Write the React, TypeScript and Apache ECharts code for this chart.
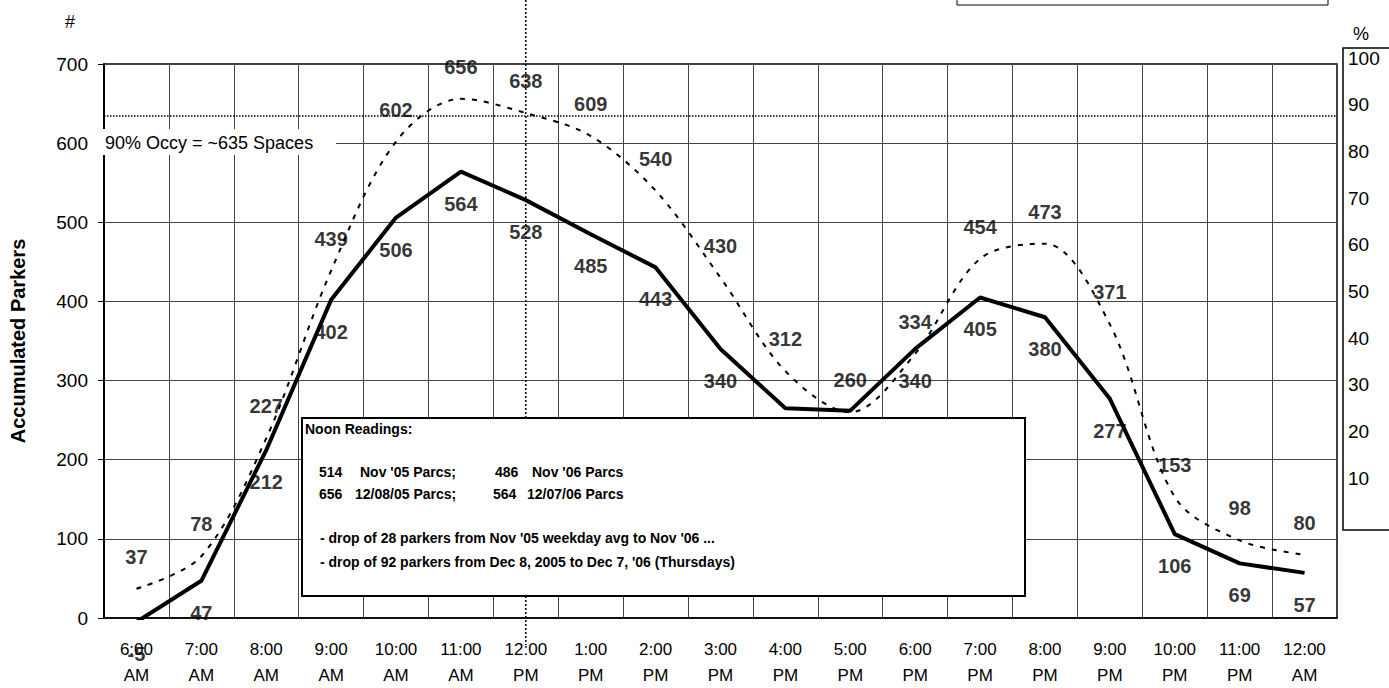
import React, { useEffect, useRef } from 'react';
import * as echarts from 'echarts';

const FONT = '"Liberation Sans", Arial, Helvetica, sans-serif';

const categories = [
  '6:00\nAM', '7:00\nAM', '8:00\nAM', '9:00\nAM', '10:00\nAM', '11:00\nAM',
  '12:00\nPM', '1:00\nPM', '2:00\nPM', '3:00\nPM', '4:00\nPM', '5:00\nPM',
  '6:00\nPM', '7:00\nPM', '8:00\nPM', '9:00\nPM', '10:00\nPM', '11:00\nPM', '12:00\nAM',
];

// dotted curve (Dec 8, 2005)
const parkers2005 = [37, 78, 227, 439, 602, 656, 638, 609, 540, 430, 312, 260, 334, 454, 473, 371, 153, 98, 80];
// solid line (Dec 7, 2006)
const parkers2006 = [-5, 47, 212, 402, 506, 564, 528, 485, 443, 340, 265, 262, 340, 405, 380, 277, 106, 69, 57];

const occupancy90 = 635;
const noonIndex = 6;
const leftTicks = { min: 0, max: 700, interval: 100 };
const pctTicks = { min: 0, max: 100, interval: 10 };

const GRID = { left: 104, top: 64, width: 1233, height: 557 };

export default function App() {
  const ref = useRef<HTMLDivElement>(null);

  useEffect(() => {
    if (!ref.current) return;
    const chart = echarts.init(ref.current, null, { renderer: 'svg', width: 1389, height: 688 });

    const labelBase = {
      show: true,
      fontFamily: FONT,
      fontWeight: 'bold' as const,
      fontSize: 20,
      lineHeight: 20,
      color: '#000',
      distance: 22,
    };

    chart.setOption({
      animation: false,
      backgroundColor: '#fff',
      textStyle: { fontFamily: FONT, color: '#000' },
      grid: [
        { ...GRID, show: true, borderColor: '#000', borderWidth: 1.5, backgroundColor: 'transparent' },
        { left: 1343, top: 58, width: 46, height: 467 },
      ],
      xAxis: [
        {
          type: 'category',
          data: categories,
          boundaryGap: true,
          axisLine: { show: true, lineStyle: { color: '#000', width: 1.5 } },
          axisTick: { show: false },
          axisLabel: { interval: 0, fontSize: 17, lineHeight: 26, margin: 18, color: '#000', fontFamily: FONT },
          splitLine: { show: true, interval: 0, lineStyle: { color: '#444', width: 1 } },
        },
        { type: 'value', gridIndex: 1, show: false },
      ],
      yAxis: [
        {
          type: 'value',
          ...leftTicks,
          name: 'Accumulated Parkers',
          nameLocation: 'middle',
          nameGap: 76,
          nameTextStyle: { fontFamily: FONT, fontWeight: 'bold', fontSize: 20, color: '#000' },
          axisLine: { show: true, lineStyle: { color: '#000', width: 2 } },
          axisTick: { show: true, length: 6, lineStyle: { color: '#000' } },
          axisLabel: { fontSize: 19, margin: 16, color: '#000', fontFamily: FONT },
          splitLine: { show: true, lineStyle: { color: '#444', width: 1 } },
        },
        {
          type: 'value',
          gridIndex: 1,
          ...pctTicks,
          position: 'left',
          axisLine: { show: false },
          axisTick: { show: false },
          splitLine: { show: false },
          axisLabel: { inside: true, margin: 5, fontSize: 19, color: '#000', fontFamily: FONT, showMinLabel: false },
        },
      ],
      series: [
        {
          name: '2005',
          type: 'line',
          data: parkers2005,
          smooth: 0.33,
          symbol: 'none',
          clip: true,
          z: 3,
          lineStyle: { color: '#000', width: 2, type: [5, 7] },
          markLine: {
            silent: true,
            symbol: 'none',
            label: { show: false },
            lineStyle: { type: 'dotted', color: '#000', width: 1.5 },
            data: [{ yAxis: occupancy90 }],
          },
        },
        {
          name: '2006',
          type: 'line',
          data: parkers2006,
          symbol: 'none',
          clip: true,
          z: 4,
          lineStyle: { color: '#000', width: 4 },
        },
        {
          name: '2005 labels',
          type: 'scatter',
          data: parkers2005,
          symbolSize: 0,
          clip: false,
          z: 5,
          itemStyle: { color: 'transparent' },
          label: { ...labelBase, position: 'top' },
        },
        {
          name: '2006 labels',
          type: 'scatter',
          data: parkers2006,
          symbolSize: 0,
          clip: false,
          z: 5,
          itemStyle: { color: 'transparent' },
          label: { ...labelBase, position: 'bottom' },
        },
      ],
    });

    const noonX = chart.convertToPixel({ xAxisIndex: 0 }, noonIndex) as number;
    const bold14 = `bold 14px ${FONT}`;
    const txt = (text: string, x: number, y: number, font: string, z = 61, align = 'left') => ({
      type: 'text',
      x,
      y,
      z,
      silent: true,
      style: { text, font, fill: '#000', textAlign: align, textVerticalAlign: 'middle' },
    });

    chart.setOption({
      graphic: [
        {
          type: 'line',
          z: 1,
          silent: true,
          shape: { x1: noonX, y1: 0, x2: noonX, y2: 645 },
          style: { stroke: '#000', lineWidth: 1.5, lineDash: [2, 2] },
        },
        {
          type: 'rect',
          z: 50,
          silent: true,
          shape: { x: 98, y: 129, width: 238, height: 26 },
          style: { fill: '#fff' },
        },
        txt('90% Occy = ~635 Spaces', 105, 143, `18px ${FONT}`, 51),
        {
          type: 'rect',
          z: 60,
          silent: true,
          shape: { x: 302, y: 418, width: 723, height: 178 },
          style: { fill: '#fff', stroke: '#000', lineWidth: 2 },
        },
        txt('Noon Readings:', 305, 429, bold14),
        txt('514', 319, 472, bold14),
        txt("Nov '05 Parcs;", 360, 472, bold14),
        txt('486', 495, 472, bold14),
        txt("Nov '06 Parcs", 532, 472, bold14),
        txt('656', 319, 494, bold14),
        txt('12/08/05 Parcs;', 355, 494, bold14),
        txt('564', 493, 494, bold14),
        txt('12/07/06 Parcs', 527, 494, bold14),
        txt("- drop of 28 parkers from Nov '05 weekday avg to Nov '06 ...", 320, 538, bold14),
        txt("- drop of 92 parkers from Dec 8, 2005 to Dec 7, '06 (Thursdays)", 320, 562, bold14),
        {
          type: 'rect',
          z: 40,
          silent: true,
          shape: { x: 1343, y: 48, width: 60, height: 482 },
          style: { fill: 'none', stroke: '#000', lineWidth: 1.5 },
        },
        {
          type: 'rect',
          z: 40,
          silent: true,
          shape: { x: 957, y: -10, width: 371, height: 15 },
          style: { fill: 'none', stroke: '#000', lineWidth: 1 },
        },
        txt('#', 70, 22, `18px ${FONT}`, 40, 'center'),
        txt('%', 1361, 34, `18px ${FONT}`, 40, 'center'),
      ],
    });

    return () => chart.dispose();
  }, []);

  return (
    <div
      ref={ref}
      style={{ position: 'fixed', left: 0, top: 0, width: 1389, height: 688, background: '#fff' }}
    />
  );
}
